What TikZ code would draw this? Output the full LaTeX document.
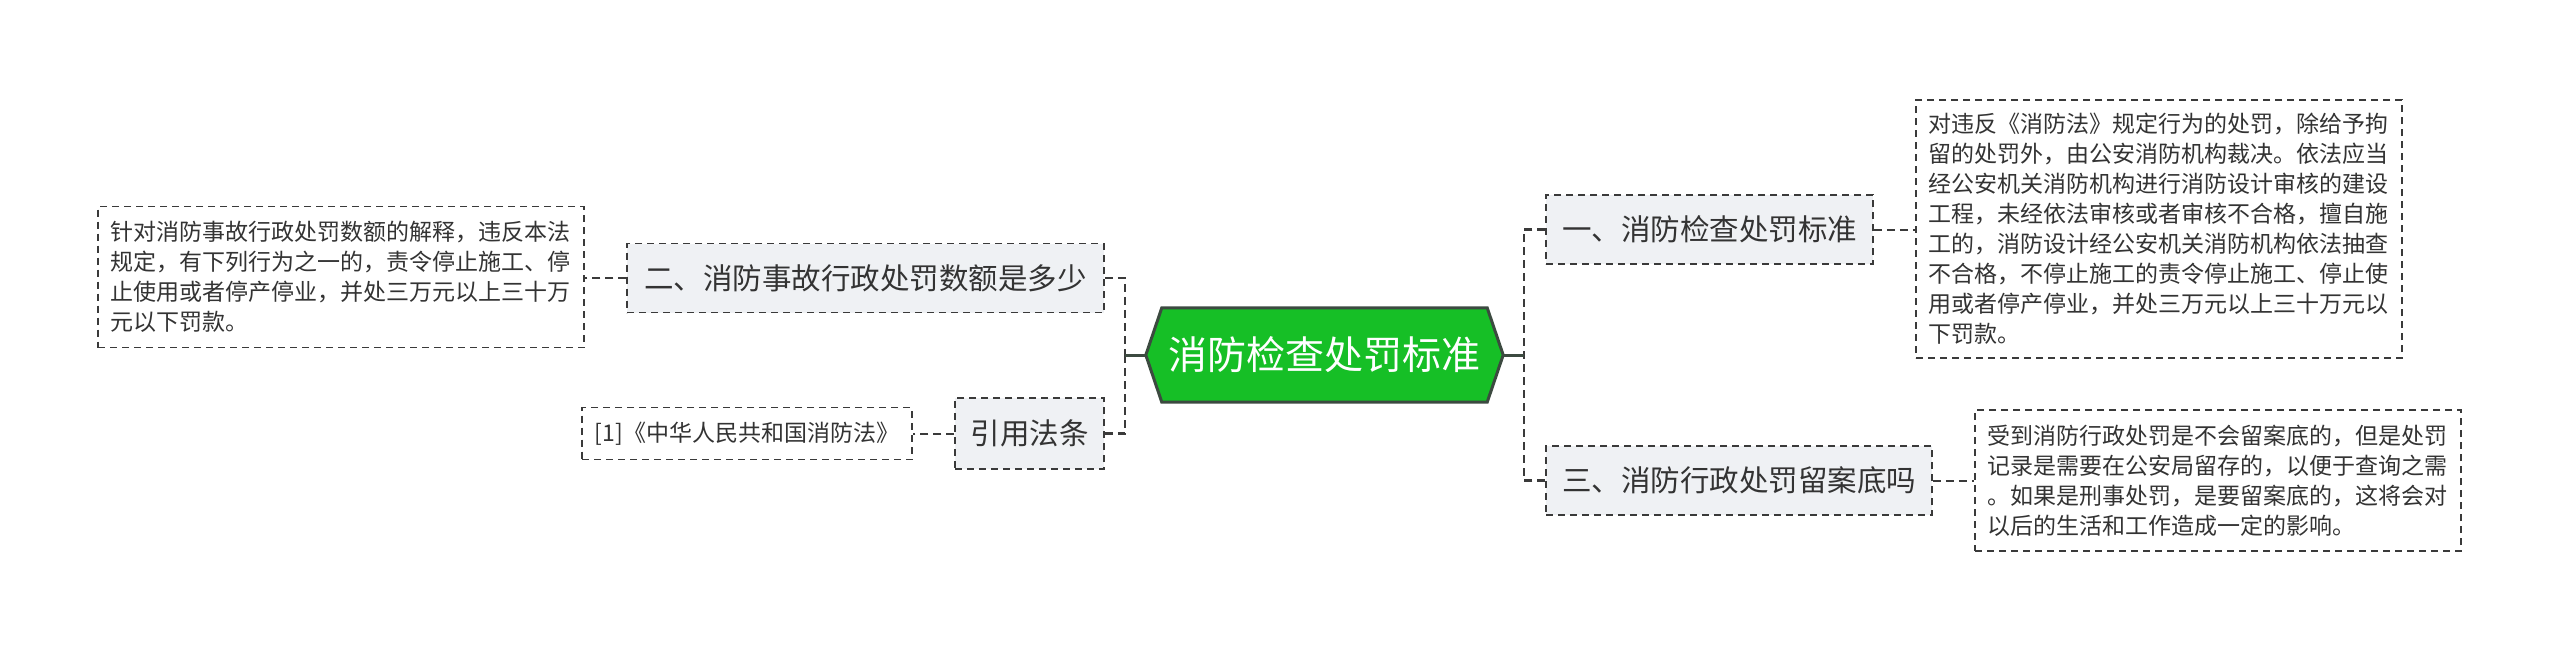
\documentclass[tikz,border=0pt]{standalone}
\usepackage{fontspec}
\newfontfamily\cjk{Noto Sans CJK SC}
\definecolor{txt}{HTML}{333333}
\definecolor{lineg}{HTML}{3A3A3A}
\definecolor{boxfill}{HTML}{EFF1F4}
\definecolor{hexfill}{HTML}{16BF26}
\definecolor{hexline}{HTML}{3C4A40}
\tikzset{
  mainbox/.style={draw=lineg, line width=1.5pt, dash pattern=on 7pt off 5pt, fill=boxfill,
    inner sep=0pt, minimum height=69pt, text=txt, font={\cjk\fontsize{29.5}{34}\selectfont}},
  detailbox/.style={draw=lineg, line width=1.5pt, dash pattern=on 7pt off 5pt, fill=white,
    inner xsep=12pt, inner ysep=0pt, text width=462pt, align=left, text=txt,
    font={\cjk\fontsize{23}{30}\selectfont}},
  refbox/.style={draw=lineg, line width=1.5pt, dash pattern=on 7pt off 5pt, fill=white,
    inner sep=0pt, minimum width=330pt, minimum height=52pt, text=txt,
    font={\cjk\fontsize{23}{26}\selectfont}},
  trunk/.style={draw=lineg, line width=2.6pt, dash pattern=on 8pt off 5pt},
  twig/.style={draw=lineg, line width=2pt, dash pattern=on 8pt off 5pt},
  stem/.style={draw=hexline, line width=3pt},
}
\begin{document}
\begin{tikzpicture}[x=1pt,y=-1pt]
\useasboundingbox (0,0) rectangle (2560,651);
% central node
\node[inner sep=0pt, minimum width=357pt, minimum height=94pt] (hex) at (1324.5,355) {};
\fill[hexfill, draw=hexline, line width=3pt, line join=miter]
  (hex.west) -- ([xshift=16pt]hex.north west) -- ([xshift=-16pt]hex.north east)
  -- (hex.east) -- ([xshift=-16pt]hex.south east) -- ([xshift=16pt]hex.south west) -- cycle;
\node[text=white, font={\cjk\fontsize{39}{44}\selectfont}] (hext) at (hex.center) {消防检查处罚标准};
% branch nodes
\node[mainbox, minimum width=327pt] (b1) at (1709.5,229.5) {一、消防检查处罚标准};
\node[mainbox, minimum width=386pt] (b3) at (1739,480.5) {三、消防行政处罚留案底吗};
\node[mainbox, minimum width=477pt] (b2) at (865.5,278) {二、消防事故行政处罚数额是多少};
\node[mainbox, minimum width=149pt, minimum height=71pt] (b4) at (1029.5,433.5) {引用法条};
% detail nodes
\node[detailbox, minimum height=258pt] (d1) at (2159,229) {对违反《消防法》规定行为的处罚，除给予拘\\留的处罚外，由公安消防机构裁决。依法应当\\经公安机关消防机构进行消防设计审核的建设\\工程，未经依法审核或者审核不合格，擅自施\\工的，消防设计经公安机关消防机构依法抽查\\不合格，不停止施工的责令停止施工、停止使\\用或者停产停业，并处三万元以上三十万元以\\下罚款。};
\node[detailbox, minimum height=141pt] (d3) at (2218,480.5) {受到消防行政处罚是不会留案底的，但是处罚\\记录是需要在公安局留存的，以便于查询之需\\。如果是刑事处罚，是要留案底的，这将会对\\以后的生活和工作造成一定的影响。};
\node[detailbox, minimum height=141pt] (d2) at (341,277) {针对消防事故行政处罚数额的解释，违反本法\\规定，有下列行为之一的，责令停止施工、停\\止使用或者停产停业，并处三万元以上三十万\\元以下罚款。};
\node[refbox] (d4) at (747,433.5) {[1]《中华人民共和国消防法》};
% junctions
\coordinate (rj) at (1524,355);
\coordinate (lj) at (1125,355);
% trunk connectors
\draw[trunk] (b1.west) -| (rj);
\draw[trunk] (b3.west) -| (rj);
\draw[trunk] (b2.east) -| (lj);
\draw[trunk] (b4.east) -| (lj);
\draw[stem] (hex.east) -- (rj);
\draw[stem] (hex.west) -- (lj);
% detail connectors
\draw[twig] (b1.east) -- (b1.east -| d1.west);
\draw[twig] (b3.east) -- (b3.east -| d3.west);
\draw[twig] (b2.west) -- (b2.west -| d2.east);
\draw[twig] (b4.west) -- (b4.west -| d4.east);
\end{tikzpicture}
\end{document}
